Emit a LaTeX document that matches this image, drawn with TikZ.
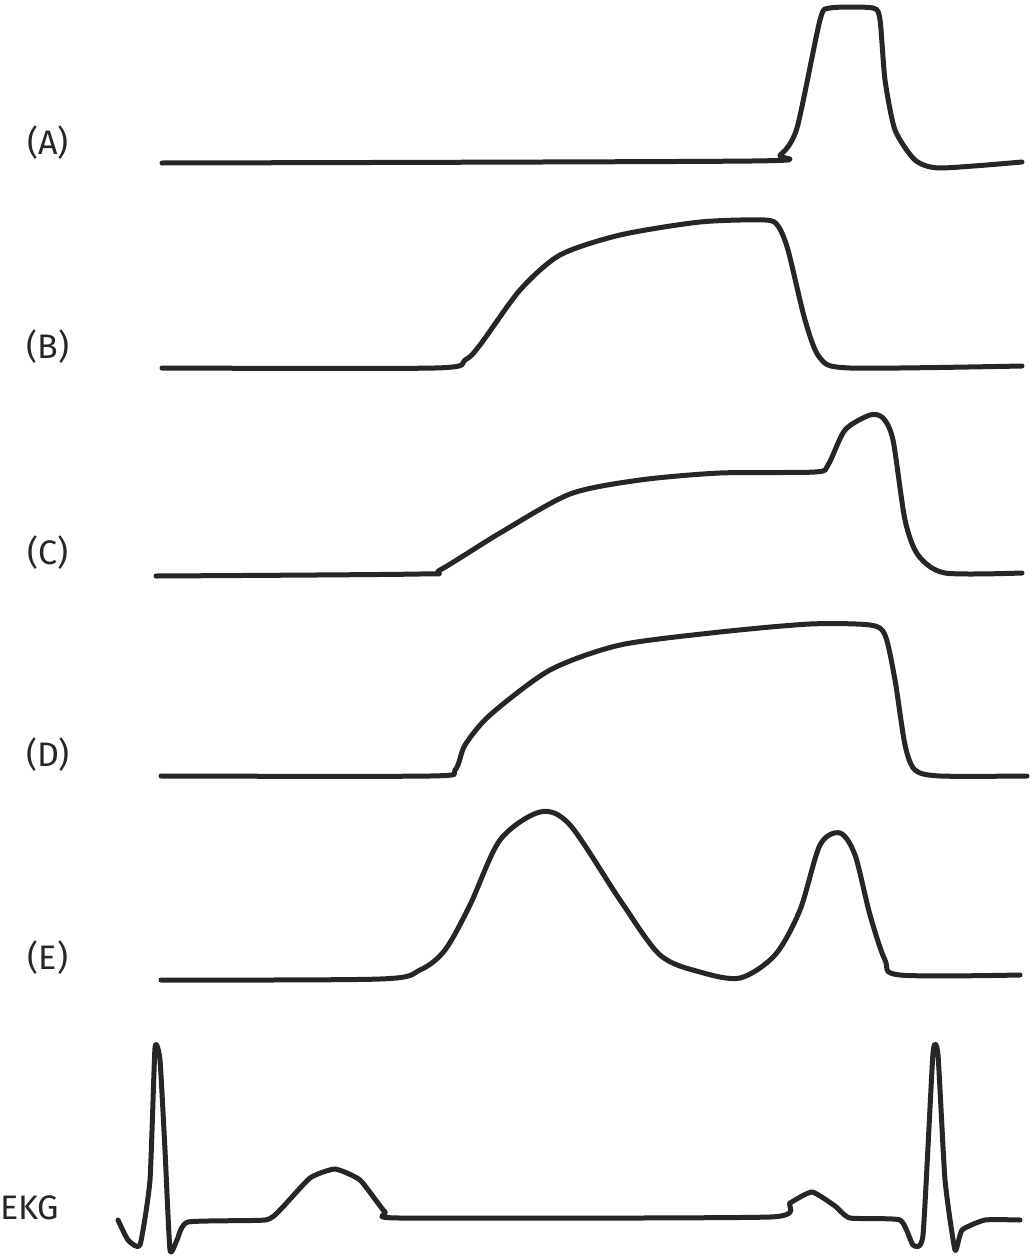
\documentclass[tikz,border=0pt]{standalone}
\usepackage{fontspec}
\setmainfont{Fira Sans}
\begin{document}
\begin{tikzpicture}[x=1pt,y=-1pt,
  trace/.style={line width=5pt,color=black!85,line join=round,line cap=round},
  lab/.style={font=\fontsize{34}{40}\selectfont\color{black!85}}]
\useasboundingbox (0,0) rectangle (1029,1258);
\node[lab] (la) at (48,143) {(A)};
\node[lab] (lb) at (48,347) {(B)};
\node[lab] (lc) at (48,553) {(C)};
\node[lab] (ld) at (48,755) {(D)};
\node[lab] (le) at (48,958) {(E)};
\node[lab,anchor=west,inner sep=0] (lk) at (0,1208) {EKG};
\draw[trace] plot[smooth,tension=0.4] coordinates {(162,163) (752,161) (780,155) (797,128) (820,20) (830,8) (873,8) (880,20) (885,80) (895,130) (915,160) (940,168) (1022,162)};
\draw[trace] plot[smooth,tension=0.45] coordinates {(162,368) (435,368) (465,360) (480,345) (520,290) (560,255) (620,235) (700,222) (765,220) (778,226) (788,250) (805,320) (820,358) (850,368) (1022,366)};
\draw[trace] plot[smooth,tension=0.45] coordinates {(156,576) (420,574) (440,570) (500,533) (570,494) (640,480) (720,473) (815,472) (828,465) (845,430) (870,415) (883,418) (893,440) (905,520) (918,555) (945,573) (1022,573)};
\draw[trace] plot[smooth,tension=0.45] coordinates {(161,776) (430,776) (455,770) (465,745) (490,715) (550,670) (620,645) (720,632) (810,624) (870,625) (885,635) (895,680) (905,745) (915,770) (940,776) (1027,776)};
\draw[trace] plot[smooth,tension=0.5] coordinates {(161,980) (380,979) (420,970) (445,950) (470,905) (500,840) (540,812) (570,825) (620,900) (660,955) (700,972) (740,978) (775,955) (800,910) (820,845) (840,833) (855,855) (870,915) (885,960) (900,975) (1020,975)};
\draw[trace] plot[smooth,tension=0.3] coordinates {(118,1220) (128,1240) (140,1245) (150,1180) (155,1048) (160,1060) (165,1150) (170,1250) (177,1240) (188,1222) (265,1220) (280,1210) (310,1178) (335,1169) (360,1180) (385,1212) (400,1218) (770,1217) (790,1203) (812,1192) (835,1206) (850,1218) (900,1220) (913,1245) (923,1235) (933,1053) (938,1055) (945,1180) (955,1250) (962,1230) (985,1220) (1020,1220)};
\end{tikzpicture}
\end{document}
